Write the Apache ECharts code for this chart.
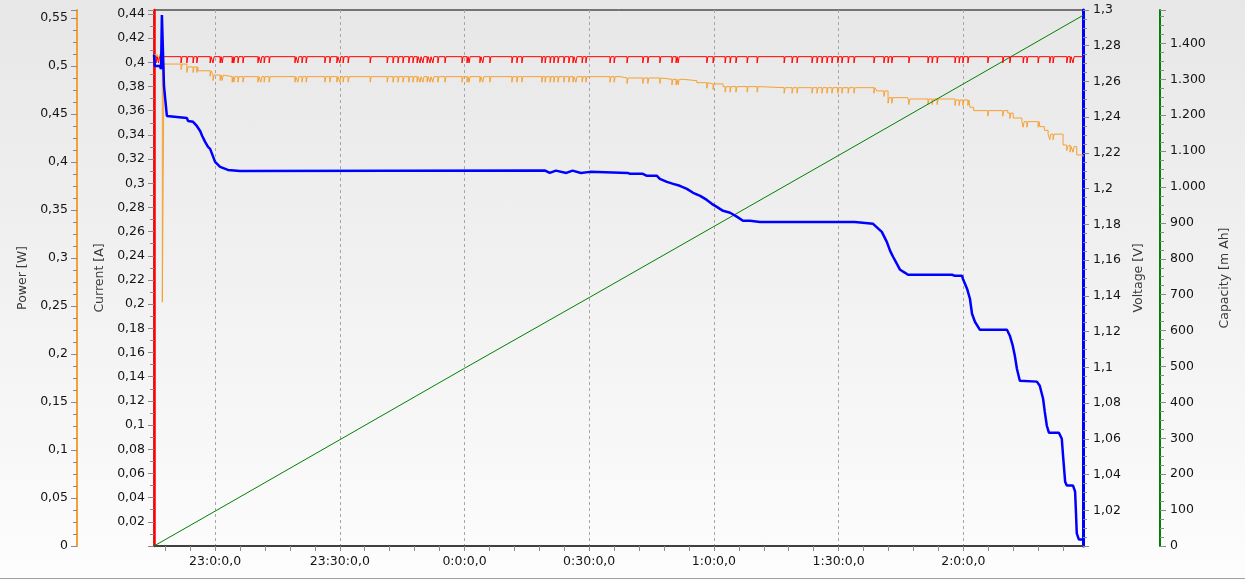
<!DOCTYPE html>
<html><head><meta charset="utf-8">
<script src="https://cdn.jsdelivr.net/npm/echarts@6/dist/echarts.min.js"></script>
<style>
html,body{margin:0;padding:0;width:1245px;height:581px;overflow:hidden;}
body{background:linear-gradient(to bottom,#e7e7e7 0%,#f6f6f6 70%,#fdfdfd 100%);position:relative;}
#chart{position:absolute;left:0;top:0;width:1245px;height:581px;}
#rule{position:absolute;left:0;top:578px;width:1245px;height:1px;background:#a0a0a0;}
</style></head><body>
<div id="chart"></div><div id="rule"></div>
<script>
// time unit: minutes after 22:00
const timeStart = 45.3;
const timeEnd = 268.8;
const xLabelTimes = [60, 90, 120, 150, 180, 210, 240];

// Voltage [V] (time, value)
const voltagePoints = [
  [45.3, 1.275], [45.5, 1.2687], [46.7, 1.2687], [47.0, 1.267], [47.2, 1.2972], [47.5, 1.2972],
  [47.7, 1.2575], [48.0, 1.2502], [48.4, 1.2407], [48.7, 1.2396], [53.2, 1.2396], [53.5, 1.2379],
  [54.7, 1.2374], [55.6, 1.2351], [56.4, 1.2323], [56.9, 1.2295], [57.6, 1.2262], [58.3, 1.2234],
  [58.8, 1.2223], [60.0, 1.215], [61.2, 1.2122], [63.1, 1.2105], [66.0, 1.2099], [139.4, 1.2101],
  [140.5, 1.2088], [142.0, 1.2101], [144.5, 1.2088], [146.0, 1.2101], [148.0, 1.2088], [150.2, 1.2094],
  [159.3, 1.2088], [159.8, 1.2083], [162.9, 1.2083], [163.9, 1.2072], [166.3, 1.2072], [167.0, 1.2055],
  [168.7, 1.2038], [170.2, 1.2027], [171.8, 1.2016], [173.5, 1.1999], [175.0, 1.1977], [176.7, 1.196],
  [178.3, 1.1937], [179.5, 1.1915], [180.7, 1.1898], [182.2, 1.1876], [183.9, 1.1865], [185.6, 1.1842],
  [187.0, 1.182], [188.7, 1.182], [191.1, 1.1814], [213.9, 1.1814], [214.2, 1.1803], [218.3, 1.1803],
  [218.7, 1.1792], [220.4, 1.1758], [221.6, 1.1702], [222.4, 1.1652], [223.1, 1.1619], [224.0, 1.158],
  [224.8, 1.1546], [226.0, 1.1529], [226.7, 1.1518], [237.3, 1.1518], [238.0, 1.1512], [239.7, 1.1512],
  [239.9, 1.1496], [240.9, 1.144], [241.6, 1.1384], [242.1, 1.13], [242.8, 1.1255], [244.0, 1.121],
  [250.5, 1.121], [251.2, 1.1177], [251.9, 1.1121], [252.4, 1.1065], [252.9, 1.0992], [253.6, 1.0925],
  [257.7, 1.092], [258.4, 1.0897], [259.2, 1.0824], [259.6, 1.0752], [260.1, 1.0673], [260.6, 1.0634],
  [263.0, 1.0634], [263.7, 1.06], [264.0, 1.0506], [264.5, 1.036], [264.9, 1.0338], [266.4, 1.0338],
  [266.9, 1.0304], [267.1, 1.0192], [267.3, 1.0071], [267.8, 1.0037], [268.8, 1.0037]
];

// Current [A]: steady level with short dips at these times
const currentBase = 0.4047;
const currentDip = 0.3995;
const dipTimes = [45.8, 46.4, 51.8, 53.2, 54.7, 55.6, 58.8, 59.5, 61.2, 61.7, 64.1, 64.5, 65.5, 66.7,
  70.3, 71.0, 71.8, 73.0, 79.2, 79.9, 80.9, 81.9, 86.4, 87.6, 89.3, 90.0, 90.8, 92.0, 97.3, 101.4,
  102.8, 104.0, 105.2, 106.6, 107.6, 108.6, 109.3, 110.0, 111.0, 111.7, 112.4, 113.6, 115.3, 119.4,
  120.6, 121.1, 123.7, 124.4, 126.1, 131.4, 132.6, 133.8, 138.6, 139.4, 140.6, 141.5, 142.5, 143.9,
  145.1, 146.1, 146.8, 148.3, 149.2, 155.0, 156.0, 159.1, 162.9, 164.1, 167.0, 169.9, 170.9, 171.4,
  178.3, 179.8, 182.7, 183.9, 185.3, 188.0, 190.4, 196.9, 198.8, 200.0, 203.6, 204.8, 206.0, 207.2,
  208.4, 209.8, 210.8, 212.3, 213.7, 218.5, 220.9, 221.9, 222.8, 226.9, 231.5, 232.5, 233.7, 238.0,
  239.0, 239.9, 241.1, 245.9, 249.5, 251.2, 254.4, 255.3, 258.0, 260.8, 261.6, 264.9, 265.7, 266.4];

// Power [W]: level changes (time, value) and dip depth at the dip times
const powerSteps = [
  [45.3, 0.512], [47.3, 0.254], [47.7, 0.502], [52.0, 0.499], [55.9, 0.495], [59.5, 0.4906],
  [62.0, 0.4889], [157.4, 0.4875], [167.7, 0.4861], [172.6, 0.4847], [175.9, 0.4826], [179.0, 0.4813],
  [182.2, 0.4785], [191.1, 0.4774], [219.2, 0.474], [221.9, 0.467], [226.7, 0.4656], [238.0, 0.4646],
  [241.6, 0.457], [242.5, 0.4535], [250.7, 0.451], [252.0, 0.4458], [254.1, 0.442], [258.4, 0.4368],
  [259.5, 0.433], [260.4, 0.429], [264.0, 0.4177], [265.1, 0.416], [267.3, 0.4073], [268.8, 0.4055]
];
const powerDipDrop = 0.0058;

// Capacity [mAh]
const capacityTimes = [45.3, 60, 90, 120, 150, 180, 210, 240, 268.8];
const capacityValues = [0, 97, 296, 495, 692, 890, 1088, 1287, 1478];

// ---- build series data ----
const dipWidth = 0.25;
const currentData = [[timeStart, currentBase]];
dipTimes.forEach(t => { currentData.push([t, currentDip]); currentData.push([t + dipWidth, currentBase]); });
currentData.push([timeEnd, currentBase]);

function powerLevelAt(t) { let L = powerSteps[0][1]; for (const [s, v] of powerSteps) if (s <= t) L = v; return L; }
const powerData = powerSteps.map(p => p.slice());
dipTimes.forEach(t => {
  if (t > 47.0 && t < 48.0) return;
  const L = powerLevelAt(t);
  powerData.push([t, L - powerDipDrop]);
  powerData.push([t + dipWidth, L]);
});
powerData.sort((a, b) => a[0] - b[0]);

const capacityData = capacityTimes.map((t, i) => [t, capacityValues[i]]);

const xMinorTicks = [];
for (let m = 48; m <= 266; m += 6) xMinorTicks.push(m);

// ---- formatting ----
const FONT = 'DejaVu Sans';
const LBL = { color: '#141414', fontFamily: FONT, fontSize: 12.5 };
const NAME = { color: '#3a3a3a', fontFamily: FONT, fontSize: 12.5 };
const TICK = { color: '#8a8a8a', width: 1 };
function onGrid(v, step) { return Math.abs(v / step - Math.round(v / step)) < 1e-6; }
function dec(v) { return String(+v.toFixed(4)).replace('.', ','); }
function fmtTime(t) {
  const tot = Math.round(t);
  const h = (22 + Math.floor(tot / 60)) % 24;
  const m = tot % 60;
  return h + ':' + m + ':0,0';
}
function fmtCap(v) {
  if (!onGrid(v, 100)) return '';
  v = Math.round(v);
  if (v >= 1000) return Math.floor(v / 1000) + '.' + String(v % 1000).padStart(3, '0');
  return String(v);
}

function yAxisBase(o) {
  return Object.assign({
    type: 'value', nameLocation: 'middle', nameRotate: 90, nameTextStyle: NAME,
    axisTick: { show: true, length: 6, lineStyle: TICK },
    minorTick: { show: true, length: 4, lineStyle: TICK },
    splitLine: { show: false }, minorSplitLine: { show: false }
  }, o);
}

const chart = echarts.init(document.getElementById('chart'), null, { renderer: 'canvas' });
chart.setOption({
  animation: false,
  backgroundColor: 'transparent',
  grid: { left: 154, right: 162, top: 10, bottom: 35, containLabel: false, outerBoundsMode: 'none',
          show: true, borderColor: '#000', borderWidth: 1, backgroundColor: 'transparent' },
  xAxis: [
    { type: 'value', min: timeStart, max: timeEnd, position: 'bottom',
      axisLine: { show: true, onZero: false, lineStyle: { color: '#404040', width: 2 } },
      axisTick: { show: true, customValues: xLabelTimes, length: 5, lineStyle: TICK },
      axisLabel: Object.assign({ customValues: xLabelTimes, formatter: fmtTime, margin: 9 }, LBL),
      splitLine: { show: true, lineStyle: { color: '#a6a6a6', type: [3, 3], width: 1 } } },
    { type: 'value', min: timeStart, max: timeEnd, position: 'bottom',
      axisLine: { show: false, onZero: false },
      axisTick: { show: true, customValues: xMinorTicks, length: 5, lineStyle: TICK },
      axisLabel: { show: false }, splitLine: { show: false } }
  ],
  yAxis: [
    yAxisBase({ name: 'Power [W]', position: 'left', offset: 77, nameGap: 48,
      min: 0, max: 0.5583, interval: 0.05, minorTick: { show: true, splitNumber: 4, length: 4, lineStyle: TICK },
      axisLine: { show: true, onZero: false, lineStyle: { color: '#f5a033', width: 2 } },
      axisLabel: Object.assign({ margin: 9, formatter: v => onGrid(v, 0.05) ? dec(v) : '' }, LBL) }),
    yAxisBase({ name: 'Current [A]', position: 'left', offset: 0, nameGap: 48,
      min: 0, max: 0.4433, interval: 0.02, minorTick: { show: true, splitNumber: 2, length: 4, lineStyle: TICK },
      axisLine: { show: true, onZero: false, lineStyle: { color: '#ff0000', width: 2.5 } },
      axisLabel: Object.assign({ margin: 9, formatter: v => (v > 0.001 && onGrid(v, 0.02)) ? dec(v) : '' }, LBL) }),
    yAxisBase({ name: 'Voltage [V]', position: 'right', offset: 0, nameGap: 49,
      min: 1.0, max: 1.3, interval: 0.02, minorTick: { show: true, splitNumber: 4, length: 4, lineStyle: TICK },
      axisLine: { show: true, onZero: false, lineStyle: { color: '#0000ff', width: 3 } },
      axisLabel: Object.assign({ margin: 10, formatter: v => (v > 1.001 && onGrid(v, 0.02)) ? dec(v) : '' }, LBL) }),
    yAxisBase({ name: 'Capacity [m Ah]', position: 'right', offset: 77, nameGap: 58,
      min: 0, max: 1493, interval: 100, minorTick: { show: true, splitNumber: 4, length: 4, lineStyle: TICK },
      axisLine: { show: true, onZero: false, lineStyle: { color: '#008000', width: 2 } },
      axisLabel: Object.assign({ margin: 10, formatter: fmtCap }, LBL) })
  ],
  series: [
    { name: 'Power', type: 'line', xAxisIndex: 0, yAxisIndex: 0, data: powerData, step: 'end',
      showSymbol: false, symbol: 'none', lineStyle: { color: '#f5a033', width: 1 }, z: 2 },
    { name: 'Capacity', type: 'line', xAxisIndex: 0, yAxisIndex: 3, data: capacityData,
      showSymbol: false, symbol: 'none', lineStyle: { color: '#008000', width: 1 }, z: 3 },
    { name: 'Current', type: 'line', xAxisIndex: 0, yAxisIndex: 1, data: currentData, step: 'end',
      showSymbol: false, symbol: 'none', lineStyle: { color: '#ff0000', width: 1 }, z: 4 },
    { name: 'Voltage', type: 'line', xAxisIndex: 0, yAxisIndex: 2, data: voltagePoints,
      showSymbol: false, symbol: 'none', lineStyle: { color: '#0000ff', width: 2.5 }, z: 5 }
  ]
});
</script></body></html>
